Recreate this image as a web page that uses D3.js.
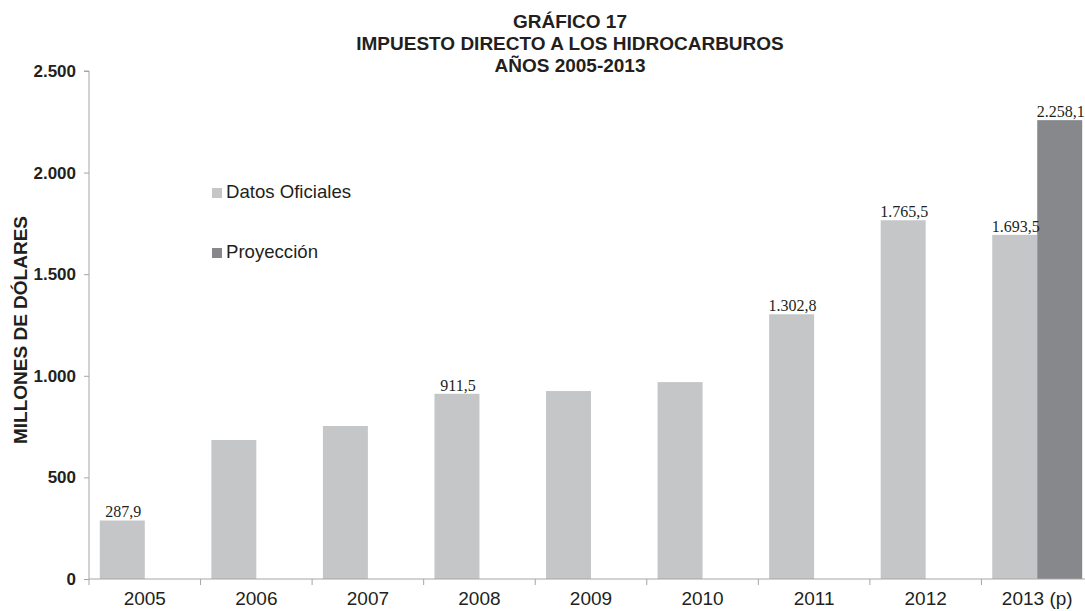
<!DOCTYPE html>
<html>
<head>
<meta charset="utf-8">
<title>Impuesto directo a los hidrocarburos</title>
<script src="https://d3js.org/d3.v7.min.js"></script>
<style>
  body { margin: 0; background: #fff; }
  text { fill: #231f20; }
</style>
</head>
<body>
<svg id="chart"></svg>
<script>
// data
const years = ["2005", "2006", "2007", "2008", "2009", "2010", "2011", "2012", "2013 (p)"];
const oficiales = [287.9, 684, 753, 911.5, 925, 969, 1302.8, 1765.5, 1693.5];
const proyeccion = [null, null, null, null, null, null, null, null, 2258.1];
const labelled = { "2005": true, "2008": true, "2011": true, "2012": true, "2013 (p)": true };
const yTicks = [0, 500, 1000, 1500, 2000, 2500];
const series = ["Datos Oficiales", "Proyección"];
const colors = ["#c5c6c8", "#87888b"];

const width = 1085, height = 611;
const plotL = 89, plotR = 1093, plotT = 71, plotB = 579;

const svg = d3.select("#chart").attr("width", width).attr("height", height);

const x = d3.scaleBand().domain(years).range([plotL, plotR]).padding(0);
const x1 = d3.scaleBand().domain(series).range([0, x.bandwidth()]).paddingInner(0).paddingOuter(0.24);
const y = d3.scaleLinear().domain([0, 2500]).range([plotB, plotT]);

// 1.302,8 style numbers
const fmt = v => {
  const s = d3.format(",.1f")(v);
  return s.replace(/,/g, "#").replace(".", ",").replace(/#/g, ".");
};
const fmtTick = d3.format(",");

// title
const title = ["GRÁFICO 17", "IMPUESTO DIRECTO A LOS HIDROCARBUROS", "AÑOS 2005-2013"];
svg.append("g").selectAll("text").data(title).join("text")
  .attr("x", 570).attr("y", (d, i) => 28 + i * 22)
  .attr("text-anchor", "middle")
  .style("font", "bold 19px 'Liberation Sans', Arial, sans-serif")
  .text(d => d);

// bars
const rows = years.map((yr, i) => ({ year: yr, vals: [oficiales[i], proyeccion[i]] }));
const g = svg.append("g").selectAll("g").data(rows).join("g")
  .attr("transform", d => `translate(${x(d.year)},0)`);

g.selectAll("rect")
  .data(d => d.vals.map((v, k) => ({ year: d.year, key: series[k], k, v })).filter(e => e.v != null))
  .join("rect")
  .attr("x", d => x1(d.key))
  .attr("width", x1.bandwidth())
  .attr("y", d => y(d.v))
  .attr("height", d => y(0) - y(d.v))
  .attr("fill", d => colors[d.k]);

g.selectAll("text.val")
  .data(d => d.vals.map((v, k) => ({ year: d.year, key: series[k], k, v }))
    .filter(e => e.v != null && labelled[e.year]))
  .join("text")
  .attr("class", "val")
  .attr("x", d => x1(d.key) + x1.bandwidth() / 2 + 1)
  .attr("y", d => y(d.v) - 3)
  .attr("text-anchor", "middle")
  .style("font", "16px 'Liberation Serif', 'Times New Roman', serif")
  .text(d => fmt(d.v));

// y axis
const yAxis = svg.append("g")
  .attr("transform", `translate(${plotL},0)`)
  .call(d3.axisLeft(y).tickValues(yTicks).tickSize(5).tickPadding(8).tickFormat(d => fmtTick(d).replace(/,/g, ".")));
yAxis.select(".domain").attr("stroke", "#a6a6a6").attr("d", `M-5,${plotT}H0V${plotB}`);
yAxis.selectAll(".tick line").attr("stroke", "#a6a6a6");
yAxis.selectAll(".tick text")
  .style("font", "bold 17px 'Liberation Sans', Arial, sans-serif")
  .attr("fill", "#231f20");

// x axis
const xAxis = svg.append("g")
  .attr("transform", `translate(0,${plotB})`)
  .call(d3.axisBottom(x).tickSize(0).tickPadding(13));
xAxis.select(".domain").attr("stroke", "#a6a6a6").attr("d", `M${plotL},0H${plotR}`);
xAxis.selectAll(".tick text")
  .style("font", "19px 'Liberation Sans', Arial, sans-serif")
  .attr("fill", "#231f20");
xAxis.selectAll("line.sep")
  .data(years.map(d => x(d)))
  .join("line").attr("class", "sep")
  .attr("x1", d => d).attr("x2", d => d)
  .attr("y1", 0).attr("y2", 6)
  .attr("stroke", "#a6a6a6");

// y label
svg.append("text")
  .attr("transform", `translate(27,330) rotate(-90)`)
  .attr("text-anchor", "middle")
  .style("font", "bold 19px 'Liberation Sans', Arial, sans-serif")
  .text("MILLONES DE DÓLARES");

// legend
const leg = svg.append("g").selectAll("g").data(series).join("g")
  .attr("transform", (d, i) => `translate(212,${193 + i * 60})`);
leg.append("rect").attr("x", 0).attr("y", -5).attr("width", 10).attr("height", 10)
  .attr("fill", (d, i) => colors[i]);
leg.append("text").attr("x", 14).attr("y", 5)
  .style("font", "18.6px 'Liberation Sans', Arial, sans-serif")
  .text(d => d);
</script>
</body>
</html>
